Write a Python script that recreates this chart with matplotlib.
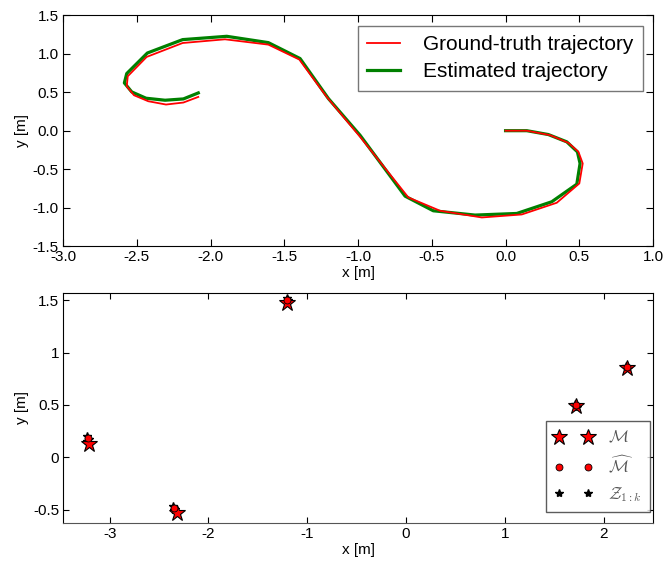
import matplotlib
matplotlib.use("Agg")
import matplotlib.pyplot as plt
from matplotlib.ticker import FormatStrFormatter, FuncFormatter

plt.rcParams['font.family'] = ['Liberation Sans', 'DejaVu Sans']
plt.rcParams['mathtext.fontset'] = 'cm'

# Ground-truth trajectory
gt_x = [0.0, 0.144, 0.302, 0.426, 0.494, 0.523, 0.500, 0.347, 0.110, -0.161, -0.444, -0.659,
        -0.986, -1.212, -1.398, -1.608, -1.902, -2.189, -2.433, -2.561, -2.568, -2.519, -2.422,
        -2.302, -2.184, -2.083]
gt_y = [0.0, 0.0, -0.058, -0.158, -0.275, -0.426, -0.686, -0.937, -1.089, -1.128, -1.041, -0.868,
        -0.080, 0.439, 0.925, 1.119, 1.188, 1.140, 0.959, 0.708, 0.578, 0.461, 0.383,
        0.340, 0.366, 0.439]
# Estimated trajectory
est_x = [0.0, 0.144, 0.290, 0.415, 0.487, 0.505, 0.483, 0.313, 0.076, -0.207, -0.490, -0.681,
         -0.986, -1.201, -1.393, -1.608, -1.890, -2.189, -2.428, -2.568, -2.584, -2.534, -2.437,
         -2.308, -2.184, -2.083]
est_y = [0.0, 0.0, -0.050, -0.145, -0.275, -0.426, -0.695, -0.924, -1.076, -1.097, -1.041, -0.851,
         -0.060, 0.418, 0.938, 1.145, 1.227, 1.184, 1.010, 0.743, 0.621, 0.504, 0.422,
         0.396, 0.413, 0.491]

# Landmarks: true map M, estimated map M-hat, measurements Z
map_x = [-3.209, -2.323, -1.209, 1.719, 2.236]
map_y = [0.124, -0.533, 1.472, 0.491, 0.857]
est_map_x = [-3.219, -2.348, -1.203, 1.719, 2.236]
est_map_y = [0.187, -0.480, 1.505, 0.497, 0.860]
meas_x = [-3.225, -3.212, -3.230, -2.355, -2.340, -2.350, -1.210, -1.195, -1.208,
          1.710, 1.728, 1.722, 2.228, 2.244, 2.236]
meas_y = [0.200, 0.175, 0.160, -0.465, -0.490, -0.505, 1.515, 1.500, 1.490,
          0.505, 0.485, 0.500, 0.870, 0.850, 0.862]

top_xticks = [-3.0, -2.5, -2.0, -1.5, -1.0, -0.5, 0.0, 0.5, 1.0]
top_yticks = [-1.5, -1.0, -0.5, 0.0, 0.5, 1.0, 1.5]
bot_xticks = [-3, -2, -1, 0, 1, 2]
bot_yticks = [-0.5, 0, 0.5, 1, 1.5]

fig = plt.figure(figsize=(6.66, 5.67), dpi=100)

# ---------- top panel ----------
ax1 = fig.add_axes([0.0946, 0.566, 0.886, 0.407])
ax1.plot(gt_x, gt_y, color='red', lw=1.3, label='Ground-truth trajectory')
ax1.plot(est_x, est_y, color='green', lw=2.3, label='Estimated trajectory', zorder=1)
ax1.set_xlim(-3.0, 1.0)
ax1.set_ylim(-1.5, 1.5)
ax1.set_xticks(top_xticks)
ax1.set_yticks(top_yticks)
ax1.xaxis.set_major_formatter(FormatStrFormatter('%.1f'))
ax1.yaxis.set_major_formatter(FormatStrFormatter('%.1f'))
ax1.tick_params(direction='in', top=True, right=True, labelsize=11, length=5, pad=3)
ax1.set_xlabel('x [m]', fontsize=11, labelpad=1)
ax1.set_ylabel('y [m]', fontsize=11, labelpad=3)
h, l = ax1.get_legend_handles_labels()
leg1 = ax1.legend(h, l, loc='upper right', fontsize=15, frameon=True, fancybox=False,
                  handlelength=1.6, handletextpad=1.1, borderpad=0.45, labelspacing=0.4,
                  borderaxespad=0, bbox_to_anchor=(0.983, 0.955))
leg1.get_frame().set_edgecolor('#555555')
leg1.get_frame().set_linewidth(1.0)

# ---------- bottom panel ----------
ax2 = fig.add_axes([0.095, 0.0771, 0.8855, 0.4067])
ax2.plot(meas_x, meas_y, linestyle='none', marker='*', color='black', markersize=6,
         label=r'$\mathcal{Z}_{1{:}k}$', zorder=2)
ax2.plot(map_x, map_y, linestyle='none', marker='*', markerfacecolor='red',
         markeredgecolor='black', markeredgewidth=0.8, markersize=12,
         label=r'$\mathcal{M}$', zorder=3)
ax2.plot(est_map_x, est_map_y, linestyle='none', marker='o', markerfacecolor='red',
         markeredgecolor='black', markeredgewidth=0.6, markersize=5,
         label=r'$\widehat{\mathcal{M}}$', zorder=4)
ax2.set_xlim(-3.47, 2.5)
ax2.set_ylim(-0.627, 1.57)
ax2.set_xticks(bot_xticks)
ax2.set_yticks(bot_yticks)
fmt = FuncFormatter(lambda v, p: ('%g' % v))
ax2.xaxis.set_major_formatter(fmt)
ax2.yaxis.set_major_formatter(fmt)
ax2.tick_params(direction='in', top=True, right=True, labelsize=11, length=4, pad=3)
ax2.spines['bottom'].set_color('#555555')
ax2.set_xlabel('x [m]', fontsize=11, labelpad=1)
ax2.set_ylabel('y [m]', fontsize=11, labelpad=3)
h, l = ax2.get_legend_handles_labels()
order = [1, 2, 0]
leg2 = ax2.legend([h[i] for i in order], [l[i] for i in order], loc='lower right',
                  numpoints=2, fontsize=12, frameon=True, fancybox=False,
                  handlelength=2.3, handletextpad=0.9, borderpad=0.5, labelspacing=0.55,
                  borderaxespad=0, bbox_to_anchor=(0.995, 0.048))
leg2.get_frame().set_edgecolor('#333333')
leg2.get_frame().set_linewidth(1.0)
for t in leg2.get_texts():
    t.set_color('#555555')

fig.savefig('out.png', dpi=100)
